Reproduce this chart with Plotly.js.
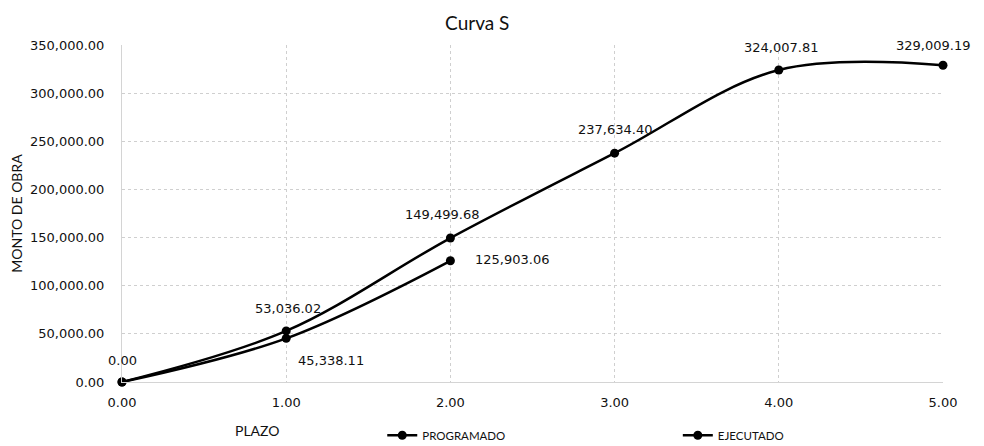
<!DOCTYPE html>
<html>
<head>
<meta charset="utf-8">
<script src="https://cdn.plot.ly/plotly-3.0.1.min.js"></script>
<style>html,body{margin:0;padding:0;background:#fff;}#chart{width:984px;height:446px;}</style>
</head>
<body>
<div id="chart"></div>
<script>
const plazoProgramado = [0, 1, 2, 3, 4, 5];
const montoProgramado = [0.00, 53036.02, 149499.68, 237634.40, 324007.81, 329009.19];
const plazoEjecutado = [0, 1, 2];
const montoEjecutado = [0.00, 45338.11, 125903.06];
const xTicks = [0, 1, 2, 3, 4, 5];
const yTicks = [0, 50000, 100000, 150000, 200000, 250000, 300000, 350000];

const fmt = v => v.toLocaleString('en-US', {minimumFractionDigits: 2, maximumFractionDigits: 2});

const labelFont = {family: 'DejaVu Sans', size: 13, color: '#111'};
const calibriLike = 'Lato, "Open Sans", sans-serif';

const traceStyle = {
  mode: 'lines+markers',
  line: {color: '#000', width: 2.5, shape: 'spline', smoothing: 1},
  marker: {color: '#000', size: 9},
  cliponaxis: false,
  hoverinfo: 'x+y'
};

const traces = [
  Object.assign({}, traceStyle, {name: 'PROGRAMADO', x: plazoProgramado, y: montoProgramado, legend: 'legend'}),
  Object.assign({}, traceStyle, {name: 'EJECUTADO', x: plazoEjecutado, y: montoEjecutado, legend: 'legend2'})
];

// label offsets (style, not data)
const progOffsets = [[0, 22], [2, 22], [-8, 24], [0, 24], [2, 23], [-10, 20]];
const ejecOffsets = [null, [45, -22], [62, 1]];

const annotations = [];
plazoProgramado.forEach((x, i) => {
  const o = progOffsets[i];
  annotations.push({x: x, y: montoProgramado[i], xref: 'x', yref: 'y', text: fmt(montoProgramado[i]),
    showarrow: false, xshift: o[0], yshift: o[1], font: labelFont});
});
plazoEjecutado.forEach((x, i) => {
  const o = ejecOffsets[i];
  if (!o) return;
  annotations.push({x: x, y: montoEjecutado[i], xref: 'x', yref: 'y', text: fmt(montoEjecutado[i]),
    showarrow: false, xshift: o[0], yshift: o[1], font: labelFont});
});
annotations.push({xref: 'paper', yref: 'paper', x: 0.164, y: -0.143, text: 'PLAZO', showarrow: false,
  font: {family: calibriLike, size: 14, color: '#111'}, xanchor: 'center', yanchor: 'middle'});

const gridStyle = {showgrid: true, gridcolor: '#cfcfcf', griddash: 'dot', gridwidth: 1, zeroline: false,
  showline: true, linecolor: '#d4d4d4', linewidth: 1, ticks: '', tickfont: labelFont};

const legendBase = {orientation: 'h', xanchor: 'left', y: -0.158, yanchor: 'middle',
  font: {family: calibriLike, size: 11.5, color: '#111'}, bgcolor: 'rgba(0,0,0,0)', itemwidth: 30,
  tracegroupgap: 0};

const layout = {
  width: 984, height: 446,
  margin: {l: 122, r: 41, t: 45, b: 64, autoexpand: false},
  paper_bgcolor: '#fff', plot_bgcolor: '#fff',
  title: {text: 'Curva S', font: {family: calibriLike, size: 19, color: '#111'}, xref: 'container', x: 0.485, xanchor: 'center', y: 0.948, yanchor: 'middle'},
  xaxis: Object.assign({}, gridStyle, {range: [0, 5], tickvals: xTicks, ticktext: xTicks.map(fmt), ticklabelstandoff: 8}),
  yaxis: Object.assign({}, gridStyle, {range: [0, 350000], tickvals: yTicks, ticktext: yTicks.map(fmt), ticklabelstandoff: 14,
    title: {text: 'MONTO DE OBRA', font: {family: calibriLike, size: 14, color: '#111'}, standoff: 4}}),
  showlegend: true,
  legend: Object.assign({}, legendBase, {x: 0.317}),
  legend2: Object.assign({}, legendBase, {x: 0.677}),
  annotations: annotations,
  hovermode: 'closest'
};

Plotly.newPlot('chart', traces, layout, {displayModeBar: false});
</script>
</body>
</html>
